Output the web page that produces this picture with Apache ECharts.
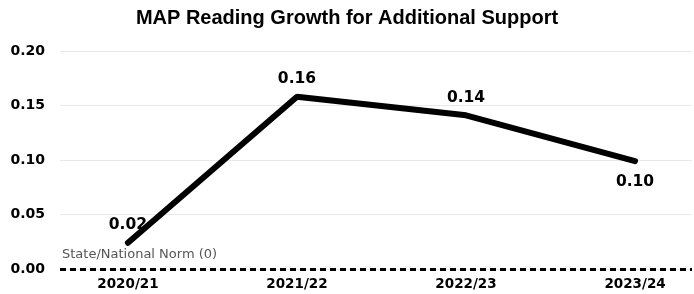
<!DOCTYPE html>
<html>
<head>
<meta charset="utf-8">
<script src="https://cdn.jsdelivr.net/npm/echarts@6/dist/echarts.min.js"></script>
<style>
  html, body { margin: 0; padding: 0; background: #fff; }
  #chart { width: 694px; height: 294px; }
</style>
</head>
<body>
<div id="chart"></div>
<script>
// school years and growth values
const years = ['2020/21', '2021/22', '2022/23', '2023/24']
const growth = [0.024, 0.158, 0.141, 0.099]
const yTicks = [0, 0.05, 0.1, 0.15, 0.2]
const normValue = 0
const normLabel = 'State/National Norm (0)'

const chart = echarts.init(document.getElementById('chart'))
const titleFont = 'Liberation Sans'
const font = 'DejaVu Sans'

chart.setOption({
  animation: false,
  title: {
    text: 'MAP Reading Growth for Additional Support',
    left: 'center',
    top: 3,
    textStyle: { fontFamily: titleFont, fontWeight: 'bold', fontSize: 20, color: '#000' }
  },
  grid: { left: 60, right: 2, top: 51, bottom: 25 },
  xAxis: {
    type: 'value',
    min: -0.402,
    max: 3.337,
    splitLine: { show: false },
    axisLine: { show: false },
    axisTick: { show: false },
    axisLabel: {
      customValues: [0, 1, 2, 3],
      formatter: v => years[v],
      fontFamily: font,
      fontWeight: 'bold',
      fontSize: 13.5,
      color: '#000',
      margin: 8
    }
  },
  yAxis: {
    type: 'value',
    min: yTicks[0],
    max: yTicks[yTicks.length - 1],
    interval: 0.05,
    axisLine: { show: false },
    axisTick: { show: false },
    axisLabel: {
      formatter: v => v.toFixed(2),
      fontFamily: font,
      fontWeight: 'bold',
      fontSize: 14,
      color: '#000',
      margin: 15
    },
    splitLine: { lineStyle: { color: '#e8e8e8', width: 1 } }
  },
  series: [{
    type: 'line',
    data: growth.map((v, i) => {
      const item = { value: [i, v] }
      if (i === growth.length - 1) item.label = { position: 'bottom', distance: 12 }
      return item
    }),
    symbol: 'circle',
    symbolSize: 1,
    itemStyle: { color: '#000' },
    lineStyle: { color: '#000', width: 6, cap: 'round' },
    label: {
      show: true,
      position: 'top',
      distance: 9,
      formatter: p => p.value[1].toFixed(2),
      fontFamily: font,
      fontWeight: 'bold',
      fontSize: 15.5,
      color: '#000'
    },
    labelLayout: { hideOverlap: false },
    markLine: {
      silent: true,
      symbol: 'none',
      data: [{ yAxis: normValue }],
      lineStyle: { color: '#000', width: 3, type: [6, 4] },
      label: {
        show: true,
        position: 'insideStartTop',
        formatter: normLabel,
        fontFamily: font,
        fontSize: 13,
        color: '#555',
        distance: [2, 8]
      }
    }
  }]
})
</script>
</body>
</html>
